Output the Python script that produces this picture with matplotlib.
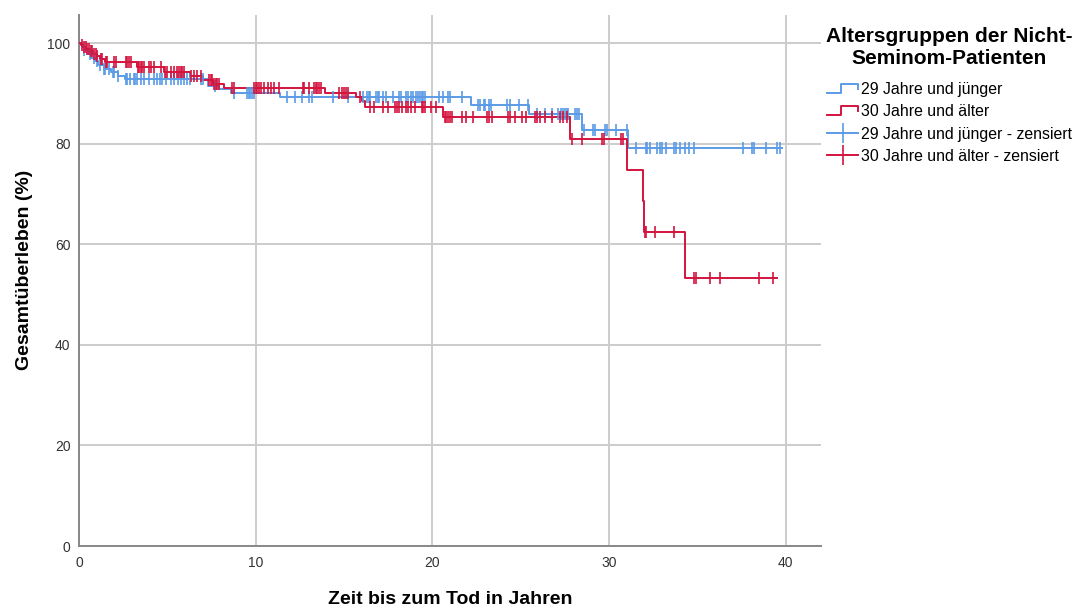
import numpy as np
import matplotlib
matplotlib.use("Agg")
import matplotlib.pyplot as plt
from matplotlib.lines import Line2D
from matplotlib.legend_handler import HandlerBase

plt.rcParams['font.family'] = ['Liberation Sans', 'DejaVu Sans']

# ---- data ----
group_labels = ["29 Jahre und jünger", "30 Jahre und älter"]
legend_title = "Altersgruppen der Nicht-\nSeminom-Patienten"

young_event_t = [0.15, 0.3, 0.5, 0.7, 0.9, 1.1, 1.4, 1.8, 2.2, 2.6,
                 7.3, 7.9, 8.6, 11.4, 22.2, 25.5, 28.45, 31.1]
young_surv = [99.3, 98.6, 97.9, 97.1, 96.4, 95.7, 95.0, 94.3, 93.6, 92.9,
              91.6, 90.9, 90.2, 89.4, 87.7, 85.9, 82.8, 79.1]
young_end = 39.8
young_cens = [0.3, 0.6, 0.85, 1.0, 1.2, 1.4, 1.5, 1.7, 1.9, 2.0, 2.2, 2.65, 2.7,
              2.9, 3.1, 3.2, 3.3, 3.5, 3.7, 3.95, 4.25, 4.4, 4.6, 4.7, 4.9, 5.2,
              5.4, 5.6, 5.8, 5.95, 6.1, 6.3, 6.9, 7.0, 7.7, 8.8, 9.5, 9.6, 9.7,
              9.8, 9.9, 11.8, 12.2, 12.6, 13.0, 13.2, 14.4, 15.2, 16.1, 16.3,
              16.4, 16.5, 16.8, 16.9, 17.0, 17.2, 17.4, 17.8, 18.1, 18.2, 18.5,
              18.6, 18.8, 18.9, 19.1, 19.2, 19.3, 19.4, 19.5, 19.6, 20.4, 20.6,
              20.9, 21.0, 21.7, 22.6, 22.7, 22.9, 23.0, 23.2, 23.3, 24.2, 24.4,
              24.9, 25.4, 25.9, 26.4, 26.8, 27.1, 27.3, 27.4, 27.5, 27.6, 27.7,
              28.1, 28.2, 28.3, 28.6, 29.1, 29.2, 29.8, 29.9, 30.4, 31.0, 31.5,
              32.1, 32.15, 32.3, 32.7, 32.9, 33.0, 33.2, 33.7, 33.8, 34.0, 34.3,
              34.5, 34.8, 37.6, 38.1, 38.2, 38.9, 39.5, 39.7]

old_event_t = [0.1, 0.25, 0.4, 0.6, 0.8, 1.0, 1.2, 1.5, 3.3, 4.8, 6.3, 7.0, 7.6,
               8.2, 13.9, 15.7, 16.0, 16.2, 20.6, 27.8, 31.0, 31.9, 32.0, 34.3]
old_surv = [99.6, 99.2, 98.8, 98.4, 97.9, 97.4, 96.9, 96.2, 95.3, 94.4, 93.6,
            92.8, 92.0, 91.2, 90.1, 89.4, 88.6, 87.4, 85.3, 80.9, 74.8, 68.6,
            62.4, 53.4]
old_end = 39.5
old_cens = [0.19, 0.28, 0.38, 0.47, 0.57, 0.66, 0.76, 0.85, 0.94, 1.04, 1.23,
            1.32, 1.51, 1.6, 1.98, 2.08, 2.65, 2.74, 2.83, 2.93, 3.35, 3.4, 3.5,
            3.59, 3.68, 3.97, 4.06, 4.25, 4.63, 4.85, 5.0, 5.2, 5.38, 5.57, 5.67,
            5.76, 5.85, 5.95, 6.33, 6.52, 6.7, 6.9, 7.37, 7.46, 7.55, 7.65, 7.74,
            7.84, 7.93, 8.69, 8.78, 9.92, 10.0, 10.1, 10.2, 10.3, 10.5, 10.7,
            10.86, 11.05, 11.3, 12.7, 12.75, 13.0, 13.3, 13.4, 13.5, 13.6, 13.7,
            14.7, 14.9, 15.0, 15.1, 15.2, 15.9, 16.5, 16.7, 17.2, 17.5, 17.9,
            18.0, 18.1, 18.3, 18.5, 18.6, 18.8, 19.0, 19.4, 19.5, 19.6, 19.9,
            20.2, 20.7, 20.8, 20.9, 21.0, 21.1, 21.7, 21.9, 22.3, 23.1, 23.2,
            23.4, 24.3, 24.4, 24.7, 25.1, 25.3, 25.8, 25.9, 26.1, 26.4, 26.8,
            27.2, 27.4, 27.6, 27.9, 28.5, 29.6, 29.7, 30.7, 30.8, 32.05, 32.1,
            32.6, 33.7, 34.8, 34.9, 35.7, 36.3, 38.5, 39.3]

x_ticks = [0, 10, 20, 30, 40]
y_ticks = [0, 20, 40, 60, 80, 100]
x_label = "Zeit bis zum Tod in Jahren"
y_label = "Gesamtüberleben (%)"

BLUE = "#5b9be6"
RED = "#d3143e"


def surv_at(t_events, surv, t):
    idx = np.searchsorted(np.asarray(t_events), np.asarray(t), side="right")
    s = np.concatenate([[100.0], np.asarray(surv)])
    return s[idx]


fig = plt.figure(figsize=(10.86, 6.09), dpi=100)
ax = fig.add_axes([0.0727, 0.1034, 0.6833, 0.8716])

for tev, sv, tend, cens, col in [
        (young_event_t, young_surv, young_end, young_cens, BLUE),
        (old_event_t, old_surv, old_end, old_cens, RED)]:
    xs = np.concatenate([[0.0], tev, [tend]])
    ys = np.concatenate([[100.0], sv, [sv[-1]]])
    ax.step(xs, ys, where="post", color=col, lw=1.4, zorder=3)
    ax.plot(cens, surv_at(tev, sv, cens), linestyle="none", marker="|",
            markersize=9, markeredgewidth=1.2, color=col, zorder=4)

ax.set_xlim(0, 42.0)
ax.set_ylim(0, 105.6)
ax.set_xticks(x_ticks)
ax.set_yticks(y_ticks)
ax.grid(True, color="#cccccc", lw=1.4, zorder=0)
ax.set_axisbelow(True)
for s in ["top", "right"]:
    ax.spines[s].set_visible(False)
for s in ["left", "bottom"]:
    ax.spines[s].set_color("#888888")
    ax.spines[s].set_linewidth(1.4)
ax.tick_params(length=0, labelsize=10, colors="#333333")
ax.tick_params(axis="x", pad=7)
ax.tick_params(axis="y", pad=6)
ax.set_xlabel(x_label, fontsize=14, fontweight="bold")
ax.xaxis.set_label_coords(0.5, -0.085)
ax.set_ylabel(y_label, fontsize=14, fontweight="bold")
ax.yaxis.set_label_coords(-0.062, 0.52)


class StepHandler(HandlerBase):
    def create_artists(self, legend, orig_handle, xdescent, ydescent,
                       width, height, fontsize, trans):
        x0 = -xdescent
        y0 = -ydescent
        xs = [x0, x0 + width * 0.45, x0 + width * 0.45, x0 + width, x0 + width]
        ys = [y0 + height * 0.15, y0 + height * 0.15, y0 + height * 0.95,
              y0 + height * 0.95, y0 + height * 0.5]
        ln = Line2D(xs, ys, color=orig_handle.get_color(), lw=1.4,
                    transform=trans)
        return [ln]


h1 = Line2D([], [], color=BLUE)
h2 = Line2D([], [], color=RED)
h3 = Line2D([], [], color=BLUE, lw=1.4, marker="|", markersize=15,
            markeredgewidth=1.2)
h4 = Line2D([], [], color=RED, lw=1.4, marker="|", markersize=15,
            markeredgewidth=1.2)
labels = [group_labels[0], group_labels[1],
          group_labels[0] + " - zensiert", group_labels[1] + " - zensiert"]
leg = fig.legend([h1, h2, h3, h4], labels, loc="upper left",
                 bbox_to_anchor=(0.7605, 0.955), frameon=False,
                 fontsize=11.4, title=legend_title,
                 title_fontproperties={"weight": "bold", "size": 15},
                 handler_map={h1: StepHandler(), h2: StepHandler()},
                 handlelength=2.0, handletextpad=0.15, labelspacing=0.45,
                 borderaxespad=0.0, borderpad=0.0)
leg._legend_box.sep = 10
leg.get_title().set_multialignment("center")

fig.savefig("out.png", dpi=100)
